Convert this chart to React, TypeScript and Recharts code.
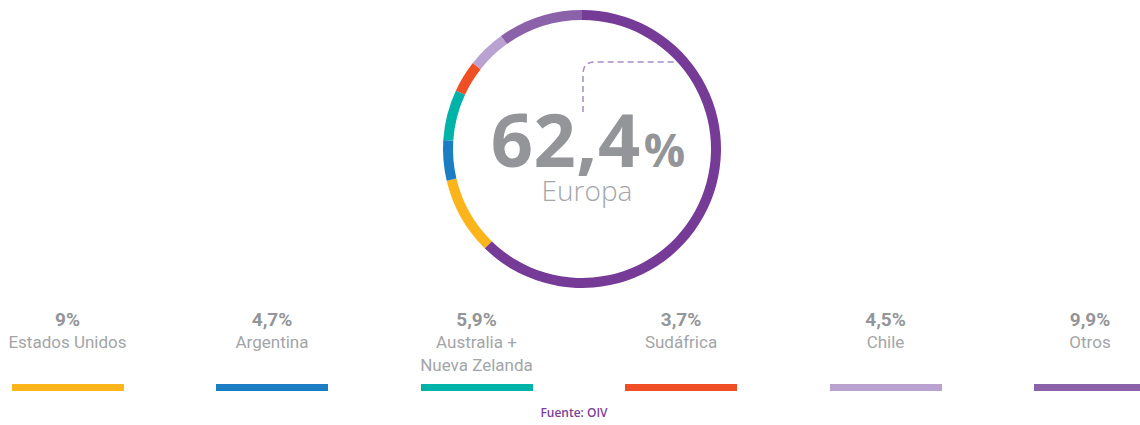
import React from 'react';
import { PieChart, Pie, Cell, Legend, Customized } from 'recharts';

const regions = ['Europa', 'Estados Unidos', 'Argentina', 'Australia +\nNueva Zelanda', 'Sudáfrica', 'Chile', 'Otros'];
const shares = [62.4, 9, 4.7, 5.9, 3.7, 4.5, 9.9];
const shareLabels = ['62,4%', '9%', '4,7%', '5,9%', '3,7%', '4,5%', '9,9%'];
const colors = ['#763b97', '#fbb51b', '#1b7dc2', '#00b3a8', '#f04e24', '#b9a1d0', '#8b61aa'];
const sourceText = 'Fuente: OIV';

const data = regions.map((name, i) => ({ name, value: shares[i] }));

const CX = 582;
const CY = 149;

const CenterLabel = () => {
  const cx = CX;
  const cy = CY;
  const big = shareLabels[0].replace('%', '');
  return (
    <g>
      <path
        d={`M ${cx + 1} ${cy - 37} V ${cy - 75} Q ${cx + 1} ${cy - 87} ${cx + 13} ${cy - 87} H ${cx + 101}`}
        fill="none"
        stroke="#a68bc9"
        strokeWidth={1.5}
        strokeDasharray="6 4"
      />
      <text x={cx + 6} y={cy + 18} textAnchor="middle" fontFamily="'Open Sans', sans-serif" fill="#939598">
        <tspan fontSize={74} fontWeight={700} letterSpacing={0.5}>{big}</tspan>
        <tspan fontSize={46} fontWeight={700} dx={3}>%</tspan>
      </text>
      <text x={cx + 5} y={cy + 52} textAnchor="middle" fontFamily="'Open Sans', sans-serif" fontSize={28} fontWeight={300} fill="#a4a6a9">
        {regions[0]}
      </text>
    </g>
  );
};

const LegendContent = () => {
  const items = regions.slice(1).map((name, i) => ({ name, pct: shareLabels[i + 1], color: colors[i + 1] }));
  return (
    <div style={{ position: 'relative', width: 1140, height: 125, fontFamily: 'Roboto, sans-serif' }}>
      {items.map((it, i) => {
        const center = 67.5 + i * 204.5;
        return (
          <div key={it.name} style={{ position: 'absolute', left: center - 100, width: 200, top: 0, height: 125, textAlign: 'center' }}>
            <div style={{ position: 'absolute', top: 8, width: 200, fontSize: 19, fontWeight: 700, color: '#939598', lineHeight: '24px' }}>{it.pct}</div>
            <div style={{ position: 'absolute', top: 31, width: 200, fontSize: 17, fontWeight: 400, color: '#a3a5a8', lineHeight: '23px', whiteSpace: 'pre-line' }}>{it.name}</div>
            <div style={{ position: 'absolute', top: 84, left: 44, width: 112, height: 7, background: it.color }} />
          </div>
        );
      })}
      <div style={{ position: 'absolute', top: 104, left: 474, width: 200, textAlign: 'center', fontFamily: "'Open Sans', sans-serif", fontSize: 12, fontWeight: 600, color: '#7c3f99' }}>
        {sourceText}
      </div>
    </div>
  );
};

export default function App() {
  return (
    <div style={{ position: 'absolute', left: 0, top: 0, width: 1140, height: 425, background: '#fff' }}>
      <PieChart width={1140} height={425} margin={{ top: 0, right: 0, bottom: 0, left: 0 }}>
        <Pie
          data={data}
          dataKey="value"
          nameKey="name"
          cx={CX}
          cy={CY}
          innerRadius={129}
          outerRadius={139}
          startAngle={90}
          endAngle={-270}
          stroke="none"
          isAnimationActive={false}
        >
          {data.map((d, i) => (
            <Cell key={d.name} fill={colors[i]} />
          ))}
        </Pie>
        <Customized component={CenterLabel} />
        <Legend content={LegendContent} wrapperStyle={{ position: 'absolute', top: 300, left: 0, width: 1140, height: 125 }} />
      </PieChart>
    </div>
  );
}
